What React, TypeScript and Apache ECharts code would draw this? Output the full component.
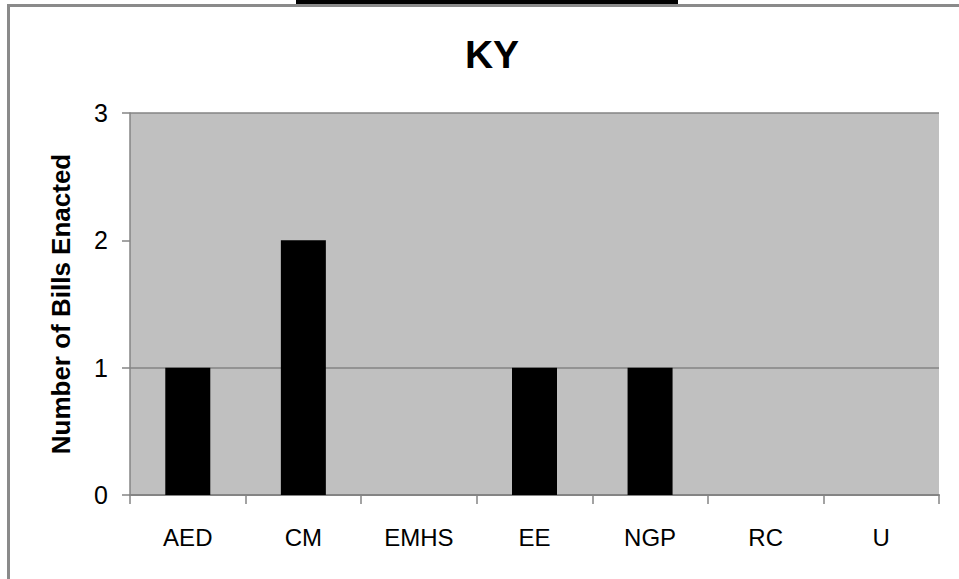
import React, { useEffect, useRef } from "react";
import * as echarts from "echarts";

const categories = ["AED", "CM", "EMHS", "EE", "NGP", "RC", "U"];
const billsEnacted = [1, 2, 0, 1, 1, 0, 0];
const gridLineValues = [1, 3];
const titleText = "KY";
const yAxisName = "Number of Bills Enacted";

export default function App() {
  const ref = useRef<HTMLDivElement>(null);
  useEffect(() => {
    if (!ref.current) return;
    const chart = echarts.init(ref.current, undefined, { renderer: "svg" });
    const font = "Liberation Sans, Arial, sans-serif";
    chart.setOption({
      animation: false,
      backgroundColor: "#ffffff",
      title: {
        text: titleText,
        left: 487,
        top: 30,
        textAlign: "center",
        textStyle: { fontFamily: font, fontSize: 39, fontWeight: "bold", color: "#000" },
      },
      graphic: [
        { type: "rect", shape: { x: 296, y: 0, width: 382, height: 5 }, style: { fill: "#000" }, z: 100 },
        { type: "rect", shape: { x: 7, y: 4, width: 952, height: 3 }, style: { fill: "#8a8a8a" }, z: 100 },
        { type: "rect", shape: { x: 7, y: 4, width: 3, height: 575 }, style: { fill: "#8a8a8a" }, z: 100 },
      ],
      grid: {
        left: 130,
        top: 113,
        right: 20,
        bottom: 84,
        show: true,
        backgroundColor: "#C0C0C0",
        borderWidth: 0,
      },
      xAxis: {
        type: "category",
        data: categories,
        axisLine: { show: true, lineStyle: { color: "#848484", width: 2 } },
        axisTick: { show: true, alignWithLabel: false, length: 9, lineStyle: { color: "#848484", width: 1.5 } },
        axisLabel: { fontFamily: font, fontSize: 24, color: "#000", margin: 30 },
        splitLine: { show: false },
      },
      yAxis: {
        type: "value",
        min: 0,
        max: 3,
        interval: 1,
        name: yAxisName,
        nameLocation: "middle",
        nameGap: 56,
        nameTextStyle: { fontFamily: font, fontSize: 26, fontWeight: "bold", color: "#000" },
        axisLine: { show: true, lineStyle: { color: "#848484", width: 1.5 } },
        axisTick: { show: true, length: 8, lineStyle: { color: "#848484", width: 1.5 } },
        axisLabel: { fontFamily: font, fontSize: 25, color: "#000", margin: 22 },
        splitLine: { show: false },
      },
      series: [
        {
          type: "line",
          data: [],
          z: 1,
          silent: true,
          markLine: {
            silent: true,
            z: 1,
            symbol: "none",
            label: { show: false },
            lineStyle: { type: "solid", color: "#848484", width: 1.5 },
            data: gridLineValues.map((v) => ({ yAxis: v })),
          },
        },
        {
          type: "bar",
          data: billsEnacted,
          z: 10,
          barWidth: 45,
          itemStyle: { color: "#000", borderWidth: 0 },
        },
      ],
    });
    return () => chart.dispose();
  }, []);
  return (
    <div
      ref={ref}
      style={{ position: "fixed", left: 0, top: 0, width: 959, height: 579 }}
    />
  );
}
